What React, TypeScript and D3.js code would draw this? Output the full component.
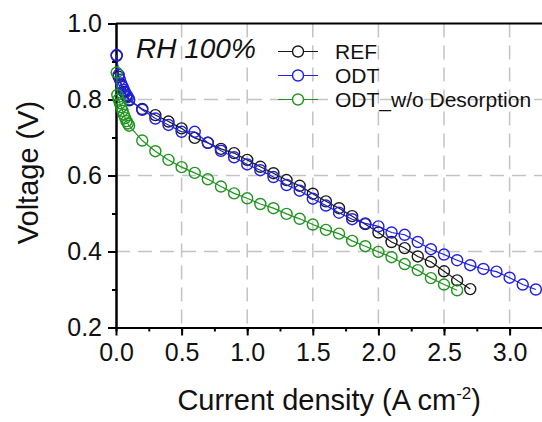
import React, { useEffect, useRef } from "react";
import * as d3 from "d3";

// polarization curves (A cm-2 vs V)
const refCurrent = [0.005, 0.02, 0.04, 0.06, 0.08, 0.1, 0.2, 0.3, 0.4, 0.5, 0.6, 0.7, 0.8, 0.9, 1.0, 1.1, 1.2, 1.3, 1.4, 1.5, 1.6, 1.7, 1.8, 1.9, 2.0, 2.1, 2.2, 2.3, 2.4, 2.5, 2.6, 2.7];
const refVoltage = [0.915, 0.86, 0.838, 0.82, 0.808, 0.798, 0.775, 0.759, 0.742, 0.724, 0.699, 0.686, 0.67, 0.659, 0.641, 0.623, 0.606, 0.588, 0.573, 0.552, 0.532, 0.514, 0.493, 0.472, 0.45, 0.425, 0.409, 0.387, 0.373, 0.348, 0.324, 0.301];

const odtCurrent = [0.005, 0.02, 0.03, 0.04, 0.05, 0.06, 0.07, 0.08, 0.09, 0.1, 0.2, 0.3, 0.4, 0.5, 0.6, 0.7, 0.8, 0.9, 1.0, 1.1, 1.2, 1.3, 1.4, 1.5, 1.6, 1.7, 1.8, 1.9, 2.0, 2.1, 2.2, 2.3, 2.4, 2.5, 2.6, 2.7, 2.8, 2.9, 3.0, 3.1, 3.2];
const odtVoltage = [0.917, 0.865, 0.852, 0.842, 0.833, 0.825, 0.818, 0.812, 0.806, 0.8, 0.773, 0.75, 0.733, 0.715, 0.715, 0.686, 0.665, 0.648, 0.629, 0.614, 0.596, 0.575, 0.56, 0.539, 0.521, 0.502, 0.485, 0.474, 0.466, 0.45, 0.444, 0.425, 0.406, 0.392, 0.377, 0.364, 0.354, 0.347, 0.331, 0.313, 0.3];

const wodCurrent = [0.005, 0.01, 0.02, 0.03, 0.04, 0.05, 0.06, 0.07, 0.08, 0.09, 0.1, 0.2, 0.3, 0.4, 0.5, 0.6, 0.7, 0.8, 0.9, 1.0, 1.1, 1.2, 1.3, 1.4, 1.5, 1.6, 1.7, 1.8, 1.9, 2.0, 2.1, 2.2, 2.3, 2.4, 2.5, 2.6];
const wodVoltage = [0.871, 0.812, 0.8, 0.79, 0.78, 0.77, 0.76, 0.751, 0.743, 0.737, 0.731, 0.692, 0.664, 0.641, 0.622, 0.607, 0.59, 0.571, 0.553, 0.54, 0.525, 0.514, 0.499, 0.486, 0.471, 0.457, 0.447, 0.428, 0.414, 0.399, 0.385, 0.367, 0.351, 0.33, 0.313, 0.298];

const seriesNames = ["REF", "ODT", "ODT_w/o Desorption"];
const seriesColors = ["#1a1a1a", "#1f1fe6", "#1f951f"];

const xTicks = [0, 0.5, 1.0, 1.5, 2.0, 2.5, 3.0];
const yTicks = [0.2, 0.4, 0.6, 0.8, 1.0];

const FONT = "'Liberation Sans', Arial, sans-serif";

export default function App() {
    const ref = useRef<SVGSVGElement | null>(null);

    useEffect(() => {
        const svg = d3.select(ref.current);
        svg.selectAll("*").remove();

        const left = 116, right = 542.4, top = 23.5, bottom = 327.5;

        const x = d3.scaleLinear().domain([0, 3.25]).range([left, right]);
        const y = d3.scaleLinear().domain([0.2, 1.0]).range([bottom, top]);

        // dashed grid
        const grid = svg.append("g")
            .attr("stroke", "#c4c4c4")
            .attr("stroke-width", 1.5)
            .attr("stroke-dasharray", "14 8");
        grid.selectAll("line.v")
            .data(xTicks.filter(d => d > 0))
            .enter().append("line")
            .attr("x1", d => x(d)).attr("x2", d => x(d))
            .attr("y1", top).attr("y2", bottom);
        grid.selectAll("line.h")
            .data(yTicks.filter(d => d > 0.2 && d < 1.0))
            .enter().append("line")
            .attr("x1", left).attr("x2", right)
            .attr("y1", d => y(d)).attr("y2", d => y(d));

        // axes
        const xMinor = svg.append("g")
            .attr("transform", `translate(0,${bottom})`)
            .call(d3.axisBottom(x).tickValues(d3.range(0, 3.26, 0.25)).tickSize(4).tickSizeOuter(0).tickFormat(() => ""));
        const yMinor = svg.append("g")
            .attr("transform", `translate(${left},0)`)
            .call(d3.axisLeft(y).tickValues(d3.range(0.2, 1.01, 0.1)).tickSize(4).tickSizeOuter(0).tickFormat(() => ""));
        const xAxis = svg.append("g")
            .attr("transform", `translate(0,${bottom})`)
            .call(d3.axisBottom(x).tickValues(xTicks).tickSize(8).tickSizeOuter(0).tickPadding(8).tickFormat(d3.format(".1f")));
        const yAxis = svg.append("g")
            .attr("transform", `translate(${left},0)`)
            .call(d3.axisLeft(y).tickValues(yTicks).tickSize(8).tickSizeOuter(0).tickPadding(6).tickFormat(d3.format(".1f")));

        [xMinor, yMinor, xAxis, yAxis].forEach(g => {
            g.select(".domain").attr("stroke", "#000").attr("stroke-width", 2);
            g.selectAll(".tick line").attr("stroke", "#000").attr("stroke-width", 2);
        });
        xAxis.selectAll(".tick text")
            .attr("font-family", FONT).attr("font-size", 25).attr("fill", "#111");
        yAxis.selectAll(".tick text")
            .attr("font-family", FONT).attr("font-size", 25).attr("fill", "#111");

        // top frame
        svg.append("line")
            .attr("x1", left).attr("x2", right)
            .attr("y1", top).attr("y2", top)
            .attr("stroke", "#000").attr("stroke-width", 2);

        // series
        const allData = [
            d3.zip(refCurrent, refVoltage),
            d3.zip(odtCurrent, odtVoltage),
            d3.zip(wodCurrent, wodVoltage),
        ];
        const line = d3.line<number[]>().x(d => x(d[0])).y(d => y(d[1]));

        allData.forEach((pts, i) => {
            const g = svg.append("g");
            g.append("path")
                .attr("d", line(pts))
                .attr("fill", "none")
                .attr("stroke", seriesColors[i])
                .attr("stroke-width", 1.2);
            g.selectAll("circle")
                .data(pts)
                .enter().append("circle")
                .attr("cx", d => x(d[0]))
                .attr("cy", d => y(d[1]))
                .attr("r", 5.5)
                .attr("fill", "none")
                .attr("stroke", seriesColors[i])
                .attr("stroke-width", 1.4);
        });

        // legend
        const legend = svg.append("g");
        seriesNames.forEach((name, i) => {
            const ly = 51.5 + i * 24;
            legend.append("line")
                .attr("x1", 278).attr("x2", 318)
                .attr("y1", ly).attr("y2", ly)
                .attr("stroke", seriesColors[i]).attr("stroke-width", 1.2);
            legend.append("circle")
                .attr("cx", 298).attr("cy", ly).attr("r", 5.5)
                .attr("fill", "#fff")
                .attr("stroke", seriesColors[i]).attr("stroke-width", 1.4);
            legend.append("text")
                .attr("x", 335).attr("y", ly + 7.5)
                .attr("font-family", FONT).attr("font-size", 21).attr("fill", "#111")
                .text(name);
        });

        svg.append("text")
            .attr("x", 136).attr("y", 58)
            .attr("font-family", FONT).attr("font-size", 28)
            .attr("font-style", "italic").attr("fill", "#111")
            .text("RH 100%");

        // axis titles
        const xt = svg.append("text")
            .attr("x", (left + right) / 2).attr("y", 410)
            .attr("text-anchor", "middle")
            .attr("font-family", FONT).attr("font-size", 29).attr("fill", "#111");
        xt.append("tspan").text("Current density (A cm");
        xt.append("tspan").attr("font-size", 17).attr("dy", -11).text("-2");
        xt.append("tspan").attr("dy", 11).text(")");

        svg.append("text")
            .attr("transform", `translate(38,${(top + bottom) / 2 - 3}) rotate(-90)`)
            .attr("text-anchor", "middle")
            .attr("font-family", FONT).attr("font-size", 29).attr("fill", "#111")
            .text("Voltage (V)");
    }, []);

    return (
        <svg ref={ref} width={542} height={422}
            style={{ position: "absolute", left: 0, top: 0, background: "#fff" }} />
    );
}
